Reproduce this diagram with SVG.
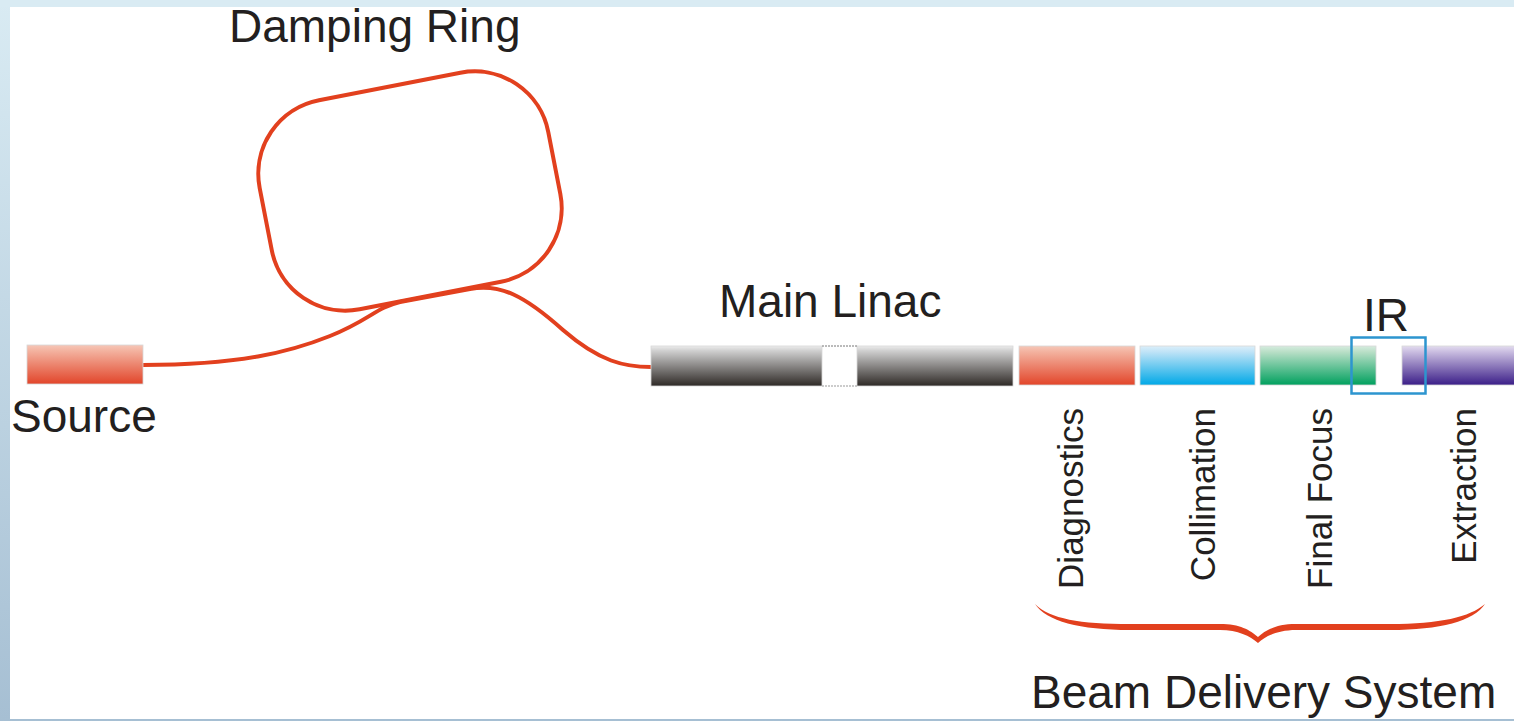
<svg xmlns="http://www.w3.org/2000/svg" width="1514" height="721" viewBox="0 0 1514 721">
<defs>
<linearGradient id="bg" x1="0" y1="0" x2="0" y2="1">
<stop offset="0" stop-color="#d9ebf3"/>
<stop offset="1" stop-color="#a6bfd3"/>
</linearGradient>
<linearGradient id="gRed" x1="0" y1="0" x2="0" y2="1">
<stop offset="0" stop-color="#f6c7b8"/>
<stop offset="0.15" stop-color="#f3b29f"/>
<stop offset="1" stop-color="#e2452a"/>
</linearGradient>
<linearGradient id="gBlue" x1="0" y1="0" x2="0" y2="1">
<stop offset="0" stop-color="#dcefFa"/>
<stop offset="0.15" stop-color="#bfe3f7"/>
<stop offset="1" stop-color="#00a8e6"/>
</linearGradient>
<linearGradient id="gGreen" x1="0" y1="0" x2="0" y2="1">
<stop offset="0" stop-color="#d6ecdf"/>
<stop offset="0.15" stop-color="#b9dfc7"/>
<stop offset="1" stop-color="#00a05e"/>
</linearGradient>
<linearGradient id="gPurple" x1="0" y1="0" x2="0" y2="1">
<stop offset="0" stop-color="#e3dcef"/>
<stop offset="0.15" stop-color="#c9bde0"/>
<stop offset="1" stop-color="#3b1e88"/>
</linearGradient>
<linearGradient id="gGray" x1="0" y1="0" x2="0" y2="1">
<stop offset="0" stop-color="#ececec"/>
<stop offset="0.12" stop-color="#cfcfcf"/>
<stop offset="1" stop-color="#2e2926"/>
</linearGradient>
<style>
.lbl{font-family:"Liberation Sans",Arial,sans-serif;font-size:46px;fill:#231f20}
.vl{font-family:"Liberation Sans",Arial,sans-serif;font-size:35px;fill:#231f20}
.beam{fill:none;stroke:#e2401e;stroke-width:4;stroke-linecap:round;stroke-linejoin:round}
.bar{stroke:#d8d8d8;stroke-width:0.8}
</style>
</defs>
<rect x="0" y="0" width="1514" height="721" fill="url(#bg)"/>
<rect x="0" y="0" width="1514" height="7" fill="#d9ebf3"/>
<rect x="10" y="7" width="1504" height="712" fill="#ffffff"/>

<g id="connectors">
<rect class="beam" x="263" y="84.5" width="294" height="213" rx="75" ry="75" transform="rotate(-11 410 191)"/>
<path class="beam" d="M143,365 C240,365 290,352 330,336 S375,308 400,302 L470,289 C500,283 525,296 563,330 C600,362 625,367 651,367"/>
</g>

<g id="source">
<rect class="bar" x="27" y="345" width="116" height="39" fill="url(#gRed)"/>
<text class="lbl" x="11" y="432">Source</text>
</g>

<g id="damping-ring">
<text class="lbl" x="229" y="42">Damping Ring</text>
</g>

<g id="main-linac">
<rect class="bar" x="651" y="346" width="171" height="40" fill="url(#gGray)"/>
<rect class="bar" x="857" y="346" width="156" height="40" fill="url(#gGray)"/>
<line x1="822" y1="346" x2="857" y2="346" stroke="#777" stroke-width="1" stroke-dasharray="2,1"/>
<line x1="822" y1="386" x2="857" y2="386" stroke="#999" stroke-width="1" stroke-dasharray="2,1"/>
<text class="lbl" x="719" y="317">Main Linac</text>
</g>

<g id="diagnostics">
<rect class="bar" x="1019" y="346" width="116" height="39" fill="url(#gRed)"/>
<text class="vl" transform="translate(1083,408) rotate(-90)" text-anchor="end">Diagnostics</text>
</g>

<g id="collimation">
<rect class="bar" x="1140" y="346" width="115" height="39" fill="url(#gBlue)"/>
<text class="vl" transform="translate(1215,408) rotate(-90)" text-anchor="end">Collimation</text>
</g>

<g id="final-focus">
<rect class="bar" x="1260" y="346" width="116" height="39" fill="url(#gGreen)"/>
<text class="vl" transform="translate(1332,408) rotate(-90)" text-anchor="end">Final Focus</text>
</g>

<g id="extraction">
<rect class="bar" x="1402" y="346" width="114" height="39" fill="url(#gPurple)"/>
<text class="vl" transform="translate(1476,408) rotate(-90)" text-anchor="end">Extraction</text>
</g>

<g id="ir">
<rect x="1351.5" y="337.5" width="74" height="56" fill="none" stroke="#2d95cf" stroke-width="2.5"/>
<text class="lbl" x="1363" y="331">IR</text>
</g>

<g id="beam-delivery-system">
<path fill="#e2401e" d="M1035,604 C1050,619 1080,624 1130,624 L1220,624 C1240,624 1250,630 1258,637 C1266,630 1276,624 1296,624 L1390,624 C1440,624 1470,617 1485,604 C1474,621 1440,630 1390,630 L1296,630 C1278,630 1266,636 1258,643 C1250,636 1238,630 1220,630 L1130,630 C1080,630 1046,621 1035,604 Z"/>
<text class="lbl" x="1031" y="708">Beam Delivery System</text>
</g>
</svg>
